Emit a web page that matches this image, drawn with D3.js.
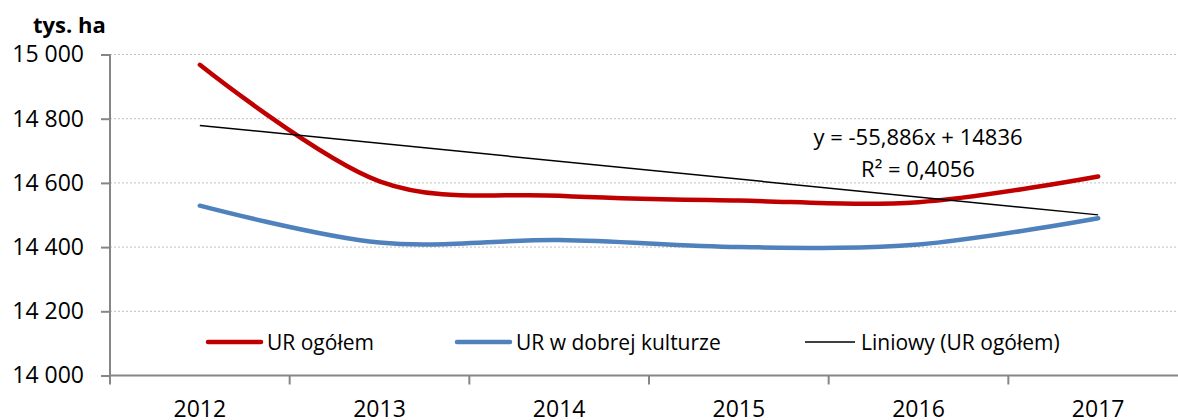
<!DOCTYPE html>
<html>
<head>
<meta charset="utf-8">
<script src="https://cdn.jsdelivr.net/npm/d3@7"></script>
<style>
  body { margin: 0; background: #fff; }
  text { font-family: "Open Sans", sans-serif; fill: #000; }
</style>
</head>
<body>
<div id="chart"></div>
<script>
var years = ["2012", "2013", "2014", "2015", "2016", "2017"];
var urOgolem = [14968, 14605, 14560, 14545, 14540, 14620];
var urDobrej = [14529, 14414, 14422, 14400, 14408, 14490];
var yTicks = [14000, 14200, 14400, 14600, 14800, 15000];
var seriesNames = ["UR ogółem", "UR w dobrej kulturze", "Liniowy (UR ogółem)"];
var trendLabel = ["y = -55,886x + 14836", "R² = 0,4056"];

var width = 1178, height = 420;
var plotLeft = 110, plotRight = 1188, plotTop = 54.5, plotBottom = 375.5;

var svg = d3.select("#chart").append("svg")
    .attr("width", width)
    .attr("height", height);

var x = d3.scaleBand().domain(years).range([plotLeft, plotRight]);
var y = d3.scaleLinear().domain([14000, 15000]).range([plotBottom, plotTop]);

// gridlines
svg.append("g").selectAll("line")
  .data(yTicks.filter(function(d) { return d > 14000; }))
  .enter().append("line")
    .attr("x1", plotLeft).attr("x2", width)
    .attr("y1", function(d) { return y(d); })
    .attr("y2", function(d) { return y(d); })
    .attr("stroke", "#bfbfbf")
    .attr("stroke-width", 1)
    .attr("stroke-dasharray", "2,2");

// y axis
var yAxis = svg.append("g")
    .attr("transform", "translate(" + plotLeft + ",0)")
    .call(d3.axisLeft(y).tickValues(yTicks).tickSize(9).tickPadding(17)
      .tickFormat(function(d) { return d3.format(",")(d).replace(",", " "); }));
yAxis.select(".domain").attr("stroke", "#868686").attr("stroke-width", 2)
    .attr("d", "M0," + plotTop + "V" + (plotBottom + 9));
yAxis.selectAll(".tick line").attr("stroke", "#868686").attr("stroke-width", 2);
yAxis.selectAll(".tick text")
    .style("font-family", "'Open Sans', sans-serif")
    .style("font-size", "23px").attr("fill", "#000");

// x axis with ticks at category boundaries
var xAxisG = svg.append("g");
xAxisG.append("line")
    .attr("x1", plotLeft).attr("x2", width)
    .attr("y1", plotBottom).attr("y2", plotBottom)
    .attr("stroke", "#868686").attr("stroke-width", 2);
xAxisG.selectAll(".bound")
  .data(years.slice(1))
  .enter().append("line")
    .attr("x1", function(d) { return x(d); })
    .attr("x2", function(d) { return x(d); })
    .attr("y1", plotBottom).attr("y2", plotBottom + 9)
    .attr("stroke", "#868686").attr("stroke-width", 2);
xAxisG.selectAll("text")
  .data(years)
  .enter().append("text")
    .attr("x", function(d) { return x(d) + x.bandwidth() / 2; })
    .attr("y", 417)
    .attr("text-anchor", "middle")
    .style("font-size", "23px")
    .text(function(d) { return d; });

// title
svg.append("text")
    .attr("x", 33).attr("y", 33)
    .style("font-size", "22px")
    .style("font-weight", "bold")
    .text("tys. ha");

var cx = function(d, i) { return x(years[i]) + x.bandwidth() / 2; };

var smooth = d3.line()
    .x(cx)
    .y(function(d) { return y(d); })
    .curve(d3.curveCardinal.tension(0));

// linear trend (least squares on UR ogółem, x = 1..n)
var n = urOgolem.length;
var xs = d3.range(1, n + 1);
var mx = d3.mean(xs), my = d3.mean(urOgolem);
var slope = d3.sum(xs, function(v, i) { return (v - mx) * (urOgolem[i] - my); }) /
            d3.sum(xs, function(v) { return (v - mx) * (v - mx); });
var icpt = my - slope * mx;
var trend = [icpt + slope * 1, icpt + slope * n];

svg.append("path")
    .datum(urDobrej)
    .attr("d", smooth)
    .attr("fill", "none")
    .attr("stroke", "#4f81bd")
    .attr("stroke-width", 4.5)
    .attr("stroke-linecap", "round");

svg.append("path")
    .datum(urOgolem)
    .attr("d", smooth)
    .attr("fill", "none")
    .attr("stroke", "#c00000")
    .attr("stroke-width", 4.5)
    .attr("stroke-linecap", "round");

svg.append("line")
    .attr("x1", x(years[0]) + x.bandwidth() / 2)
    .attr("x2", x(years[n - 1]) + x.bandwidth() / 2)
    .attr("y1", y(trend[0]))
    .attr("y2", y(trend[1]))
    .attr("stroke", "#000")
    .attr("stroke-width", 1.5);

// trend equation label
svg.append("g").selectAll("text")
  .data(trendLabel)
  .enter().append("text")
    .attr("x", 918)
    .attr("y", function(d, i) { return 145 + i * 31.5; })
    .attr("text-anchor", "middle")
    .style("font-size", "22px")
    .text(function(d) { return d; });

// legend
var legendColors = ["#c00000", "#4f81bd", "#000000"];
var legendWidths = [4.5, 4.5, 1.5];
var legendX = [208, 457, 805];

var legendItem = svg.selectAll(".legend")
  .data(seriesNames)
  .enter().append("g")
    .attr("class", "legend")
    .attr("transform", function(d, i) { return "translate(" + legendX[i] + ",342)"; });

legendItem.append("line")
    .attr("x1", 0).attr("x2", function(d, i) { return i === 2 ? 50 : 53; })
    .attr("y1", 0).attr("y2", 0)
    .attr("stroke", function(d, i) { return legendColors[i]; })
    .attr("stroke-width", function(d, i) { return legendWidths[i]; })
    .attr("stroke-linecap", function(d, i) { return i === 2 ? "butt" : "round"; });

legendItem.append("text")
    .attr("x", function(d, i) { return i === 2 ? 56 : 59; })
    .attr("y", 8)
    .style("font-size", "21px")
    .text(function(d) { return d; });
</script>
</body>
</html>
